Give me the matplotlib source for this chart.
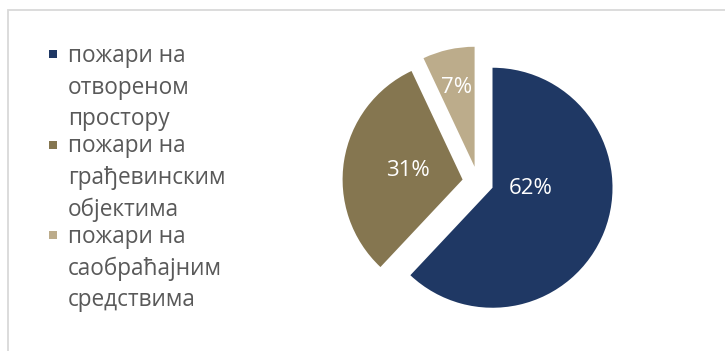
import numpy as np
import matplotlib
matplotlib.use('Agg')
import matplotlib.pyplot as plt
from matplotlib.patches import Rectangle

plt.rcParams['font.family'] = ['Open Sans', 'DejaVu Sans']

# data
categories = ['пожари на\nотвореном\nпростору',
              'пожари на\nграђевинским\nобјектима',
              'пожари на\nсаобраћајним\nсредствима']
shares = [62, 31, 7]
colors = ['#1F3864', '#857650', '#BCAC8B']

# label distance from slice tip (fraction of radius) and angle tweak (deg)
label_dist = [0.32, 0.46, 0.68]
label_turn = [20, 0, 0]

W, H = 725, 351
fig = plt.figure(figsize=(W / 100, H / 100), dpi=100)


def fx(x):
    return x / W


def fy(y):
    return 1 - y / H


# chart frame (light grey, runs off the right / bottom edge)
fig.add_artist(Rectangle((fx(8), fy(400)), fx(760), 390 / H,
                         transform=fig.transFigure, fill=False,
                         edgecolor='#D9D9D9', linewidth=1.3))

# pie: centre (478, 182) px, radius 120 px
cx, cy, r = 478, 182, 120
ax = fig.add_axes([fx(cx - r), fy(cy + r), 2 * r / W, 2 * r / H])
wedges, texts, autotexts = ax.pie(
    shares, colors=colors, startangle=90, counterclock=False,
    explode=[0.13] * len(shares), autopct='%1.0f%%', pctdistance=0.5,
    wedgeprops={'clip_on': False, 'linewidth': 0},
    textprops={'color': 'white', 'fontsize': 16})
ax.set_xlim(-1, 1)
ax.set_ylim(-1, 1)
ax.set_aspect('equal')
ax.axis('off')

for w, t, d, turn in zip(wedges, autotexts, label_dist, label_turn):
    ang = np.deg2rad((w.theta1 + w.theta2) / 2 + turn)
    x0, y0 = w.center
    t.set_position((x0 + d * np.cos(ang), y0 + d * np.sin(ang)))
    t.set_ha('center')
    t.set_va('center')

# legend drawn by hand: square + three lines per entry
base0 = 62
entry_gap = 90.5
line_gap = 31.7
for i, (lab, col) in enumerate(zip(categories, colors)):
    yb = base0 + i * entry_gap
    fig.add_artist(Rectangle((fx(49), fy(yb - 4)), 8 / W, 8 / H,
                             transform=fig.transFigure, facecolor=col,
                             edgecolor='none'))
    for j, line in enumerate(lab.split('\n')):
        fig.text(fx(68), fy(yb + j * line_gap), line, fontsize=16.3,
                 color='#595959', ha='left', va='baseline')

fig.savefig('out.png', dpi=100)
